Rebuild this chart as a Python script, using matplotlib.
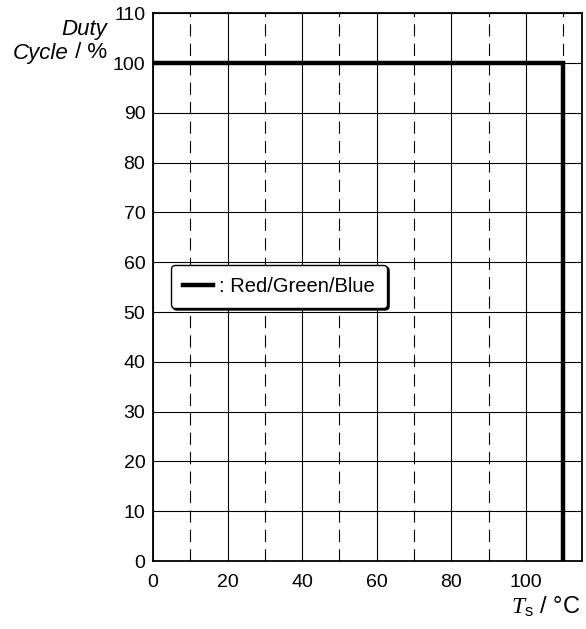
import matplotlib
matplotlib.use("Agg")
import matplotlib.pyplot as plt
import numpy as np

plt.rcParams['font.family'] = ['Liberation Sans', 'DejaVu Sans']
plt.rcParams['mathtext.fontset'] = 'custom'
plt.rcParams['mathtext.it'] = 'Liberation Serif:italic'
plt.rcParams['mathtext.rm'] = 'Liberation Sans'

# derating curve: full duty up to 110 °C, then zero
temp = [0, 110, 110]
duty = [100, 100, 0]
series_label = ": Red/Green/Blue"

x_major = [0, 20, 40, 60, 80, 100]
x_minor = [10, 30, 50, 70, 90, 110]
y_major = list(range(0, 111, 10))

fig = plt.figure(figsize=(5.86, 6.29), dpi=100)
ax = fig.add_axes([0.261, 0.108, 0.732, 0.871])

ax.set_xlim(0, 115)
ax.set_ylim(0, 110)
ax.set_xticks(x_major)
ax.set_xticks(x_minor, minor=True)
ax.set_yticks(y_major)

ax.grid(which='major', axis='both', color='black', lw=0.8, ls='-')
ax.grid(which='minor', axis='x', color='black', lw=0.8, ls=(0, (11, 6.5)))
ax.tick_params(which='both', length=0, labelsize=14)
ax.tick_params(axis='y', pad=5.5)
ax.tick_params(axis='x', pad=9)
for s in ax.spines.values():
    s.set_linewidth(1.3)

ax.plot(temp, duty, color='black', lw=3.2, solid_joinstyle='miter',
        label=series_label, zorder=5)

leg = ax.legend(loc='upper left', bbox_to_anchor=(4.8, 59.5),
                bbox_transform=ax.transData, fontsize=14.5,
                handlelength=1.5, handletextpad=0.3, borderpad=0.6,
                borderaxespad=0,
                fancybox=True, framealpha=1, edgecolor='black',
                shadow={'color': 'black', 'alpha': 1, 'ox': 1.5, 'oy': -1.5})
leg.get_frame().set_linewidth(1.0)

# axis titles
fig.text(107 / 586, 1 - 29 / 629, "Duty", fontsize=16, style='italic',
         ha='right', va='center')
t = fig.text(107 / 586, 1 - 53 / 629, " / %", fontsize=16,
             ha='right', va='center')
fig.canvas.draw()
bb = t.get_window_extent()
fig.text(bb.x0 / 586, 1 - 53 / 629, "Cycle", fontsize=16, style='italic',
         ha='right', va='center')

fig.text(580 / 586, 1 - 607 / 629, r"$\mathit{T}_\mathrm{s}$ / °C",
         fontsize=17, ha='right', va='center')

fig.savefig("out.png", dpi=100)
